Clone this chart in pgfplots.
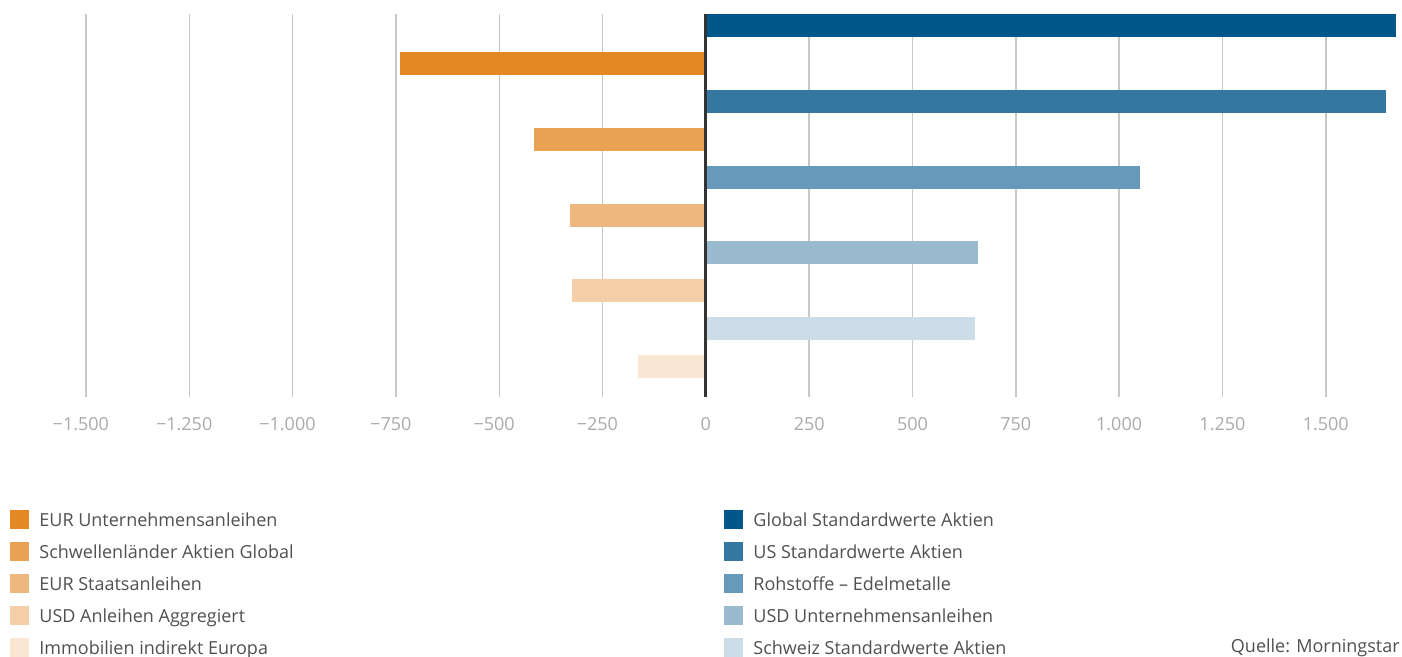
\documentclass[border=0pt]{standalone}
\usepackage{pgfplots}
\pgfplotsset{compat=1.18}
\usepackage{fontspec}
\setmainfont{Open Sans}
\definecolor{b1}{RGB}{0,87,138}
\definecolor{b2}{RGB}{52,120,161}
\definecolor{b3}{RGB}{102,153,186}
\definecolor{b4}{RGB}{153,186,207}
\definecolor{b5}{RGB}{204,221,231}
\definecolor{o1}{RGB}{227,136,35}
\definecolor{o2}{RGB}{233,162,84}
\definecolor{o3}{RGB}{238,183,125}
\definecolor{o4}{RGB}{245,207,167}
\definecolor{o5}{RGB}{249,230,211}
\definecolor{gridc}{RGB}{200,200,200}
\definecolor{zline}{RGB}{51,51,51}
\definecolor{tickc}{RGB}{170,170,170}
\definecolor{legc}{RGB}{80,80,80}
\newcommand{\m}{\llap{−}}
\begin{document}
\begin{tikzpicture}
\path[use as bounding box] (0,0) rectangle (701pt,328.5pt);
\begin{axis}[
    at={(43pt,130pt)}, anchor=south west,
    scale only axis,
    width=655pt, height=191.5pt,
    xmin=-1500, xmax=1670,
    ymin=-0.303, ymax=9.8,
    y dir=reverse,
    axis line style={draw=none},
    ytick=\empty,
    xtick={-1500,-1250,...,1500},
    xticklabels={\m1.500,\m1.250,\m1.000,\m750,\m500,\m250,0,250,500,750,1.000,1.250,1.500},
    major tick length=0pt,
    xmajorgrids,
    grid style={color=gridc, line width=0.75pt},
    xticklabel style={anchor=center, yshift=-13.5pt, font=\fontsize{9}{10}\selectfont, text=tickc},
    every axis plot/.append style={xbar, bar width=11.5pt, bar shift=0pt, draw=none},
    legend columns=2,
    legend image code/.code={\fill[#1] (0pt,-1.55pt) rectangle (9.5pt,7.95pt);},
    legend style={at={(axis description cs:-0.058,-0.295)}, anchor=north west,
        draw=none, fill=none, inner sep=0pt, row sep=6.5pt,
        font=\fontsize{9}{10}\selectfont, text=legc,
        nodes={inner sep=0pt, anchor=base west},
        /tikz/every odd column/.append style={column sep=5pt},
        /tikz/every even column/.append style={column sep=0pt}},
]
\addplot[fill=o1] coordinates {(-740,1)};
\addlegendentry{\makebox[342.5pt][l]{EUR Unternehmensanleihen}}
\addplot[fill=b1] coordinates {(1670,0)};
\addlegendentry{Global Standardwerte Aktien}
\addplot[fill=o2] coordinates {(-416,3)};
\addlegendentry{\makebox[342.5pt][l]{Schwellenländer Aktien Global}}
\addplot[fill=b2] coordinates {(1645,2)};
\addlegendentry{US Standardwerte Aktien}
\addplot[fill=o3] coordinates {(-329,5)};
\addlegendentry{\makebox[342.5pt][l]{EUR Staatsanleihen}}
\addplot[fill=b3] coordinates {(1050,4)};
\addlegendentry{Rohstoffe – Edelmetalle}
\addplot[fill=o4] coordinates {(-324,7)};
\addlegendentry{\makebox[342.5pt][l]{USD Anleihen Aggregiert}}
\addplot[fill=b4] coordinates {(658,6)};
\addlegendentry{USD Unternehmensanleihen}
\addplot[fill=o5] coordinates {(-165,9)};
\addlegendentry{\makebox[342.5pt][l]{Immobilien indirekt Europa}}
\addplot[fill=b5] coordinates {(651,8)};
\addlegendentry{Schweiz Standardwerte Aktien}
\draw[zline, line width=1.4pt] (axis cs:0,-0.303) -- (axis cs:0,9.8);
\end{axis}
\node[anchor=base east, inner sep=0pt, font=\fontsize{9}{10}\selectfont, text=legc] at (700pt,2pt) {Quelle: Morningstar};
\end{tikzpicture}
\end{document}
